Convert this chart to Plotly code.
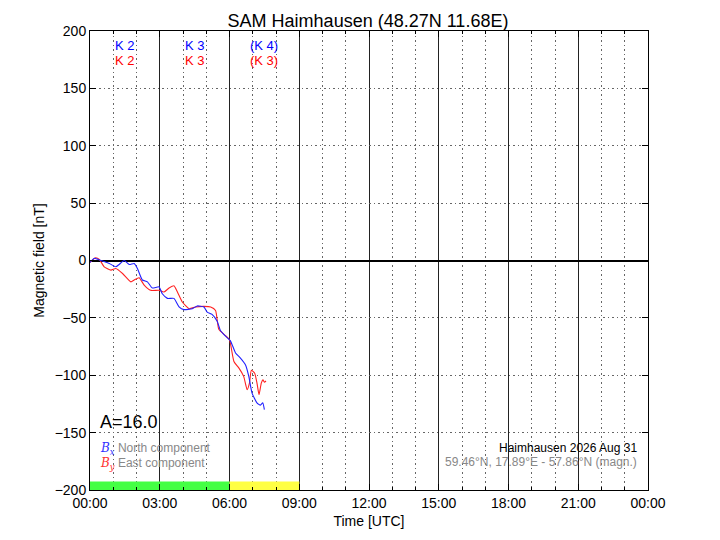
import plotly.graph_objects as go

# Data (hours UTC, nT)
bx_hours = [0.0, 0.19, 0.33, 0.54, 0.83, 1.11, 1.25, 1.47, 1.69, 1.9, 2.04, 2.25, 2.47, 2.68, 2.97,
            3.11, 3.33, 3.61, 3.83, 4.04, 4.4, 4.61, 4.9, 5.04, 5.25, 5.47, 5.61, 5.83, 6.04, 6.26,
            6.47, 6.69, 6.83, 6.97, 7.18, 7.33, 7.43, 7.5]
bx_values = [-1.7, 2.0, 1.0, -0.5, -2.6, -5.5, -3.5, 0.0, -3.5, -2.6, -7.0, -17.0, -18.6, -24.0, -23.0,
             -29.0, -33.0, -33.0, -40.4, -42.8, -42.0, -39.6, -40.5, -45.0, -47.0, -53.0, -61.0, -66.0, -70.0, -80.6,
             -85.0, -91.0, -101.0, -115.6, -124.0, -126.0, -124.0, -130.0]

by_hours = [0.0, 0.24, 0.4, 0.61, 0.9, 1.11, 1.4, 1.76, 1.9, 2.11, 2.33, 2.61, 2.97, 3.18, 3.4,
            3.61, 3.76, 3.97, 4.26, 4.54, 4.9, 5.19, 5.4, 5.54, 5.83, 6.0, 6.19, 6.4, 6.61, 6.76,
            6.86, 6.94, 7.08, 7.18, 7.27, 7.37, 7.44, 7.5, 7.57]
by_values = [-1.7, 2.4, 1.0, -5.5, -8.4, -7.0, -11.3, -18.6, -17.0, -15.0, -21.4, -26.0, -26.0, -27.5, -24.0,
             -22.0, -27.5, -36.2, -42.0, -40.5, -40.0, -40.5, -43.5, -60.0, -65.5, -69.0, -88.0, -93.6, -101.0, -112.6,
             -106.6, -95.7, -98.0, -106.6, -117.0, -106.6, -104.0, -106.0, -105.0]

# K index per 3-hour interval
k_centers = [1.5, 4.5, 7.5]
k_north = ["K 2", "K 3", "(K 4)"]
k_east = ["K 2", "K 3", "(K 3)"]

# Status bars at the bottom
bar_centers = [3.0, 7.5]
bar_widths = [6.0, 3.0]
bar_colors = ["#44ff44", "#ffff44"]

tick_hours = [0, 3, 6, 9, 12, 15, 18, 21, 24]
tick_labels = ["00:00", "03:00", "06:00", "09:00", "12:00", "15:00", "18:00", "21:00", "00:00"]

FONT = "Liberation Sans, Arial, sans-serif"
DOTS = "1.5px,3px"

fig = go.Figure()

fig.add_trace(go.Bar(x=bar_centers, y=[7.5, 7.5], base=-200, width=bar_widths,
                     marker=dict(color=bar_colors, line=dict(width=0)), hoverinfo="skip"))

fig.add_trace(go.Scatter(x=by_hours, y=by_values, mode="lines", name="By",
                         line=dict(color="#ff2020", width=1.1, shape="spline", smoothing=0.5)))
fig.add_trace(go.Scatter(x=bx_hours, y=bx_values, mode="lines", name="Bx",
                         line=dict(color="#2020ff", width=1.1, shape="spline", smoothing=0.5)))

# K labels
for xc, kn, ke in zip(k_centers, k_north, k_east):
    fig.add_annotation(x=xc, y=187, text=kn, showarrow=False, yanchor="middle",
                       font=dict(family=FONT, size=13, color="#0000ff"))
    fig.add_annotation(x=xc, y=174, text=ke, showarrow=False, yanchor="middle",
                       font=dict(family=FONT, size=13, color="#ff0000"))

annos = [
    dict(x=0.35, y=-141, text="A=16.0", font=dict(size=18, color="black")),
    dict(x=0.35, y=-164,
         text="<span style='color:#3030ff;font-family:DejaVu Serif'><i>B<sub>x</sub></i></span> North component",
         font=dict(size=12, color="#888888")),
    dict(x=0.35, y=-177,
         text="<span style='color:#ff3030;font-family:DejaVu Serif'><i>B<sub>y</sub></i></span> East component",
         font=dict(size=12, color="#888888")),
]
for a in annos:
    fig.add_annotation(x=a["x"], y=a["y"], text=a["text"], showarrow=False, xanchor="left",
                       yanchor="middle", font=dict(family=FONT, **a["font"]))

fig.add_annotation(x=23.6, y=-163, text="Haimhausen 2026 Aug 31", showarrow=False, xanchor="right",
                   yanchor="middle", font=dict(family=FONT, size=12, color="black"))
fig.add_annotation(x=23.6, y=-176, text="59.46°N, 17.89°E - 57.86°N (magn.)", showarrow=False,
                   xanchor="right", yanchor="middle", font=dict(family=FONT, size=12, color="#888888"))

fig.update_layout(
    width=720, height=540,
    margin=dict(l=82, r=80, t=23, b=58),
    paper_bgcolor="white", plot_bgcolor="white",
    showlegend=False,
    font=dict(family=FONT, size=14, color="black"),
    title=dict(text="SAM Haimhausen (48.27N 11.68E)", x=0.5, xanchor="center", y=0.977,
               yanchor="middle", font=dict(size=18)),
    xaxis=dict(range=[0, 24], tickvals=tick_hours, ticktext=tick_labels,
               showgrid=True, gridcolor="#222222", gridwidth=1,
               minor=dict(dtick=1, showgrid=True, gridcolor="#666666", griddash=DOTS, gridwidth=1,
                          ticks="inside", ticklen=3, tickcolor="black"),
               ticks="inside", ticklen=6, tickcolor="black",
               showline=True, linecolor="black", linewidth=1, mirror="allticks",
               zeroline=False, automargin=False,
               title=dict(text="Time [UTC]", standoff=6, font=dict(size=14))),
    yaxis=dict(range=[-200, 200], dtick=50,
               showgrid=True, gridcolor="#666666", griddash=DOTS, gridwidth=1,
               zeroline=True, zerolinecolor="black", zerolinewidth=1.5,
               ticks="inside", ticklen=6, tickcolor="black",
               showline=True, linecolor="black", linewidth=1, mirror="allticks",
               automargin=False,
               title=dict(text="Magnetic field [nT]", standoff=6, font=dict(size=14))),
)

fig.write_html("out.html")
